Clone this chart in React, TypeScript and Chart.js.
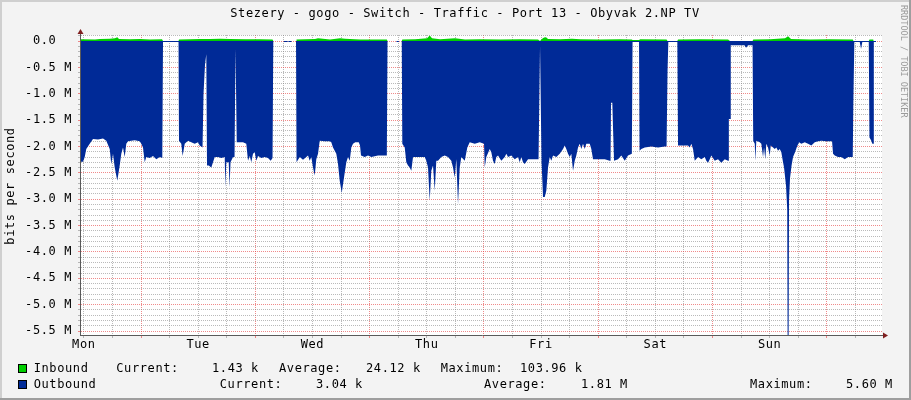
import React, { useEffect, useRef } from 'react';
import { Chart, registerables } from 'chart.js';

Chart.register(...registerables);

const TITLE = 'Stezery - gogo - Switch - Traffic - Port 13 - Obyvak 2.NP TV';
const Y_TITLE = 'bits per second';
const WATERMARK = 'RRDTOOL / TOBI OETIKER';

// x axis: hours since Monday 00:00 (one week window)
const xStartHour = 11.4;
const xEndHour = 179.6;
const dayLabels = ['Mon', 'Tue', 'Wed', 'Thu', 'Fri', 'Sat', 'Sun'];

// y axis (Mbit/s, outbound drawn negative)
const yMin = -5.575;
const yMax = 0.114;
const yTickValues = [0, -0.5, -1.0, -1.5, -2.0, -2.5, -3.0, -3.5, -4.0, -4.5, -5.0, -5.5];
const yTickLabels = [' 0.0  ', '-0.5 M', '-1.0 M', '-1.5 M', '-2.0 M', '-2.5 M', '-3.0 M', '-3.5 M', '-4.0 M', '-4.5 M', '-5.0 M', '-5.5 M'];

// Outbound traffic (hours, Mbit/s negative)
const outHours = [
  11.40, 11.82, 12.18, 12.51, 13.23, 13.92, 14.97, 16.02, 16.71, 17.43,
  17.76, 18.12, 18.48, 19.02, 19.53, 19.86, 20.22, 20.58, 20.91, 21.27,
  22.68, 23.73, 24.06, 24.42, 24.78, 25.11, 25.83, 26.52, 27.21, 27.93,
  28.47, 28.62, 31.88, 31.98, 32.46, 32.74, 33.18, 33.87, 34.56, 35.28,
  35.97, 36.33, 36.92, 37.13, 37.44, 37.71, 37.86, 38.22, 38.76, 39.12,
  39.48, 40.17, 40.86, 41.58, 41.70, 41.91, 42.42, 42.59, 42.80, 43.32,
  43.64, 43.85, 44.10, 45.42, 46.11, 46.47, 46.83, 47.16, 47.52, 47.88,
  48.21, 48.57, 49.26, 49.98, 50.67, 51.24, 51.62, 51.78, 53.93, 54.03,
  54.66, 54.77, 55.08, 55.50, 55.61, 56.55, 56.66, 57.33, 58.02, 58.71,
  59.07, 59.43, 59.76, 60.12, 60.48, 60.81, 61.17, 61.53, 62.58, 63.63,
  63.96, 64.32, 64.68, 65.01, 65.37, 65.73, 66.15, 66.63, 67.11, 67.47,
  67.83, 68.16, 68.52, 69.00, 69.72, 69.99, 70.20, 70.98, 71.67, 72.36,
  73.77, 75.62, 75.77, 77.61, 77.68, 78.12, 78.18, 78.75, 78.87, 79.38,
  79.71, 80.07, 80.43, 80.76, 81.12, 82.17, 83.58, 83.91, 84.27, 84.63,
  84.96, 85.32, 85.68, 86.01, 86.37, 87.06, 87.78, 88.47, 89.16, 89.52,
  89.88, 90.21, 90.57, 90.93, 91.26, 91.98, 92.52, 93.03, 94.08, 95.13,
  96.03, 96.18, 96.51, 97.23, 97.56, 97.92, 98.28, 98.61, 98.97, 99.66,
  100.38, 100.71, 101.07, 101.76, 102.48, 103.17, 103.53, 103.86, 104.22, 104.58,
  105.27, 106.68, 107.48, 107.79, 108.11, 108.42, 108.78, 109.11, 109.47, 109.83,
  110.16, 110.52, 111.21, 111.93, 112.62, 112.98, 113.31, 113.67, 114.03, 114.36,
  114.72, 115.08, 115.41, 115.77, 116.13, 116.46, 116.82, 117.18, 117.51, 118.23,
  118.56, 118.92, 119.97, 121.38, 122.43, 122.60, 122.70, 122.97, 123.12, 123.33,
  124.17, 124.86, 125.58, 126.27, 127.07, 127.22, 128.58, 128.69, 129.06, 129.78,
  131.16, 132.57, 133.98, 134.36, 134.57, 134.73, 136.62, 136.77, 138.87, 139.23,
  139.56, 139.92, 140.28, 140.97, 141.66, 142.38, 142.71, 143.07, 143.43, 143.76,
  144.48, 145.17, 145.86, 146.58, 147.27, 147.44, 147.69, 147.84, 150.73, 151.05,
  151.47, 152.42, 152.56, 152.88, 153.00, 153.21, 153.93, 154.26, 154.62, 154.83,
  155.10, 155.31, 155.67, 156.03, 156.24, 157.08, 157.41, 157.77, 158.13, 158.46,
  158.82, 159.03, 159.18, 159.45, 159.70, 159.78, 159.99, 160.08, 160.29, 160.61,
  160.92, 161.34, 161.76, 162.18, 162.66, 163.38, 164.07, 164.76, 165.48, 166.17,
  166.86, 167.91, 169.11, 169.32, 169.68, 170.37, 171.06, 171.78, 172.47, 173.16,
  173.46, 173.58, 173.79, 174.93, 175.20, 175.47, 176.82, 176.97, 177.30, 177.57,
  177.76, 177.88, 178.35,
];
const outMbps = [
  -2.29, -2.29, -2.20, -2.05, -1.95, -1.86, -1.87, -1.85, -1.89, -2.05,
  -2.33, -2.14, -2.40, -2.65, -2.36, -2.14, -2.02, -2.20, -1.95, -1.90,
  -1.88, -1.90, -1.95, -2.02, -2.30, -2.20, -2.22, -2.18, -2.24, -2.20,
  -2.22, -0.02, -0.02, -1.89, -1.95, -2.18, -1.95, -1.89, -1.92, -1.95,
  -1.92, -1.98, -2.02, -1.00, -0.45, -0.25, -2.36, -2.36, -2.40, -2.30,
  -2.20, -2.20, -2.22, -2.20, -2.77, -2.30, -2.30, -2.77, -2.30, -2.20,
  -2.20, -0.15, -1.92, -1.92, -1.95, -2.27, -2.18, -2.30, -2.14, -2.11,
  -2.27, -2.18, -2.22, -2.20, -2.22, -2.27, -2.22, 0, 0, -0.02,
  -0.02, 0, -0.02, -0.02, 0, 0, -2.30, -2.20, -2.25, -2.20,
  -2.17, -2.27, -2.20, -2.40, -2.55, -2.24, -2.14, -1.89, -1.90, -1.90,
  -1.92, -2.02, -2.08, -2.14, -2.33, -2.65, -2.88, -2.59, -2.30, -2.20,
  -2.27, -2.02, -1.95, -1.92, -1.92, -1.98, -2.17, -2.20, -2.17, -2.20,
  -2.17, -2.17, 0, 0, -0.02, -0.02, 0, 0, -1.95, -2.02,
  -2.30, -2.36, -2.40, -2.46, -2.20, -2.20, -2.20, -2.27, -2.40, -3.03,
  -2.46, -2.36, -2.84, -2.27, -2.27, -2.20, -2.17, -2.20, -2.27, -2.40,
  -2.59, -2.24, -3.09, -2.40, -2.20, -2.27, -2.02, -1.92, -1.95, -1.92,
  -1.95, -2.40, -2.20, -2.05, -2.11, -2.27, -2.33, -2.20, -2.17, -2.27,
  -2.20, -2.14, -2.20, -2.17, -2.24, -2.20, -2.30, -2.20, -2.30, -2.33,
  -2.24, -2.24, -2.24, -0.10, -2.30, -2.96, -2.96, -2.84, -2.40, -2.20,
  -2.27, -2.17, -2.20, -2.14, -2.05, -1.98, -2.05, -2.14, -2.20, -2.14,
  -2.46, -2.27, -2.17, -2.02, -1.95, -2.05, -1.95, -2.05, -1.95, -1.95,
  -2.05, -2.24, -2.24, -2.24, -2.27, -2.27, -1.17, -1.17, -1.65, -2.27,
  -2.24, -2.17, -2.27, -2.17, -2.14, -0.02, -0.02, -2.08, -2.05, -2.02,
  -2.00, -2.02, -2.00, -2.00, -0.55, -0.02, -0.02, -1.98, -1.98, -2.02,
  -1.95, -2.05, -2.27, -2.20, -2.24, -2.20, -2.27, -2.31, -2.24, -2.17,
  -2.27, -2.24, -2.31, -2.24, -2.27, -1.48, -1.48, -0.08, -0.08, -0.13,
  -0.08, -0.08, -1.89, -1.95, -2.27, -1.89, -1.92, -1.95, -2.20, -2.02,
  -2.24, -1.95, -2.02, -2.17, -1.98, -2.05, -2.02, -2.08, -2.05, -2.11,
  -2.30, -2.40, -2.52, -2.75, -3.20, -5.60, -5.60, -3.00, -2.60, -2.36,
  -2.20, -2.11, -2.00, -1.92, -1.95, -1.92, -1.95, -1.98, -1.92, -1.90,
  -1.89, -1.90, -1.90, -2.14, -2.17, -2.20, -2.20, -2.24, -2.20, -2.20,
  -2.20, -1.20, -0.02, -0.02, -0.15, -0.02, -0.02, -1.83, -1.88, -1.95,
  -1.95, -0.02, -0.02,
];

// Inbound traffic (hours, Mbit/s)
const inHours = [
  11.40, 14.34, 15.39, 17.49, 18.54, 19.02, 19.38, 21.69, 23.79, 25.89,
  28.41, 28.62, 31.88, 31.98, 34.29, 36.39, 38.49, 40.59, 42.69, 45.84,
  48.99, 51.62, 51.78, 56.55, 56.66, 60.54, 61.17, 63.69, 65.79, 66.84,
  69.99, 75.62, 75.77, 78.75, 78.87, 81.54, 84.06, 84.63, 85.11, 86.79,
  89.94, 92.04, 95.19, 99.39, 103.59, 107.37, 107.79, 108.11, 108.63, 109.05,
  109.47, 111.99, 114.51, 116.19, 120.39, 124.59, 127.07, 127.22, 128.58, 128.69,
  134.36, 134.57, 136.62, 136.77, 141.39, 147.27, 147.69, 152.42, 152.56, 156.09,
  159.24, 159.87, 160.50, 164.49, 168.69, 173.46, 173.62, 176.82, 176.97, 177.76,
  177.88,
];
const inMbps = [
  0.035, 0.03, 0.04, 0.045, 0.05, 0.07, 0.04, 0.035, 0.04, 0.03,
  0.035, 0, 0, 0.03, 0.035, 0.04, 0.04, 0.045, 0.04, 0.035,
  0.035, 0.03, 0, 0, 0.03, 0.04, 0.05, 0.03, 0.05, 0.045,
  0.03, 0.03, 0, 0, 0.03, 0.035, 0.05, 0.104, 0.05, 0.035,
  0.05, 0.03, 0.035, 0.03, 0.035, 0.03, 0, 0.035, 0.065, 0.07,
  0.04, 0.035, 0.045, 0.035, 0.03, 0.035, 0.03, 0.02, 0.02, 0.035,
  0.03, 0, 0, 0.03, 0.035, 0.03, 0, 0, 0.03, 0.035,
  0.05, 0.09, 0.04, 0.03, 0.035, 0.03, 0, 0, 0.03, 0.03,
  0,
];

// Legend texts
const inboundLegend = ['Inbound', 'Current:', '1.43 k', 'Average:', '24.12 k', 'Maximum:', '103.96 k'];
const outboundLegend = ['Outbound', 'Current:', '3.04 k', 'Average:', '1.81 M', 'Maximum:', '5.60 M'];

// ---- styling / layout ----
const FONT = '"DejaVu Sans Mono", monospace';
const BLUE = '#002A97';
const GREEN = '#00CF00';
const GRID_MINOR = 'rgba(130,130,130,0.55)';
const GRID_MAJOR = 'rgba(230,60,60,0.6)';
const BG = '#F3F3F3';
const AXIS = '#5A5A5A';
const ARROW = '#7F1F1F';
const LEGEND_X_IN = [33.7, 116.3, 212, 279, 366, 440.7, 520];
const LEGEND_X_OUT = [33.7, 219.8, 316, 484, 581, 750, 846];

function pairs(xs: number[], ys: number[]) {
  const n = Math.min(xs.length, ys.length);
  const out: { x: number; y: number }[] = [];
  for (let i = 0; i < n; i++) out.push({ x: xs[i], y: ys[i] });
  return out;
}

const framePlugin = {
  id: 'rrdFrame',
  beforeDraw(chart: any) {
    const { ctx, width, height, chartArea: a } = chart;
    ctx.save();
    ctx.fillStyle = BG;
    ctx.fillRect(0, 0, width, height);
    ctx.fillStyle = '#CFCFCF';
    ctx.fillRect(0, 0, width, 2);
    ctx.fillRect(0, 0, 2, height);
    ctx.fillStyle = '#9E9E9E';
    ctx.fillRect(0, height - 2, width, 2);
    ctx.fillRect(width - 2, 0, 2, height);
    ctx.fillStyle = '#FFFFFF';
    ctx.fillRect(a.left, a.top, a.right - a.left, a.bottom - a.top);
    ctx.restore();
    (ctx as any).letterSpacing = '0.6px';
  },
  afterDraw(chart: any) {
    const { ctx, chartArea: a } = chart;
    ctx.save();
    // axes
    ctx.strokeStyle = AXIS;
    ctx.lineWidth = 1;
    ctx.beginPath();
    ctx.moveTo(a.left - 0.5, a.bottom + 1);
    ctx.lineTo(a.left - 0.5, a.top - 4);
    ctx.moveTo(a.left - 1, a.bottom + 0.5);
    ctx.lineTo(a.right + 3, a.bottom + 0.5);
    ctx.stroke();
    ctx.fillStyle = ARROW;
    ctx.beginPath();
    ctx.moveTo(a.left - 0.5, a.top - 6);
    ctx.lineTo(a.left - 3.5, a.top - 1);
    ctx.lineTo(a.left + 2.5, a.top - 1);
    ctx.closePath();
    ctx.fill();
    ctx.beginPath();
    ctx.moveTo(a.right + 6, a.bottom + 0.5);
    ctx.lineTo(a.right + 1, a.bottom - 2.5);
    ctx.lineTo(a.right + 1, a.bottom + 3.5);
    ctx.closePath();
    ctx.fill();

    // texts
    ctx.fillStyle = '#000';
    ctx.font = `12px ${FONT}`;
    (ctx as any).letterSpacing = '0.6px';
    ctx.textBaseline = 'middle';
    ctx.textAlign = 'center';
    ctx.fillText(TITLE, 465, 13.5);

    ctx.save();
    ctx.translate(11, 186);
    ctx.rotate(-Math.PI / 2);
    ctx.fillText(Y_TITLE, 0, 0);
    ctx.restore();

    ctx.textAlign = 'left';
    inboundLegend.forEach((t, i) => ctx.fillText(t, LEGEND_X_IN[i], 368.5));
    outboundLegend.forEach((t, i) => ctx.fillText(t, LEGEND_X_OUT[i], 384.5));

    // legend swatches
    ctx.fillStyle = GREEN;
    ctx.fillRect(18, 364, 9, 9);
    ctx.fillStyle = BLUE;
    ctx.fillRect(18, 380, 9, 9);
    ctx.strokeStyle = '#000';
    ctx.strokeRect(18.5, 364.5, 8, 8);
    ctx.strokeRect(18.5, 380.5, 8, 8);

    // watermark
    ctx.save();
    ctx.fillStyle = '#9A9A9A';
    ctx.font = `8.5px ${FONT}`;
    (ctx as any).letterSpacing = '0px';
    ctx.translate(903, 5);
    ctx.rotate(Math.PI / 2);
    ctx.textAlign = 'left';
    ctx.textBaseline = 'middle';
    ctx.fillText(WATERMARK, 0, 0);
    ctx.restore();

    ctx.restore();
  },
};

export default function App() {
  const ref = useRef<HTMLCanvasElement>(null);

  useEffect(() => {
    document.body.style.margin = '0';
    const canvas = ref.current;
    if (!canvas) return;

    const xGrid: number[] = [];
    for (let h = Math.ceil(xStartHour / 6) * 6; h <= xEndHour; h += 6) xGrid.push(h);
    const yGrid: number[] = [];
    for (let i = Math.ceil(yMin * 10); i <= Math.floor(yMax * 10); i++) yGrid.push(i / 10);

    const chart = new Chart(canvas, {
      type: 'line',
      data: {
        datasets: [
          {
            label: 'Inbound',
            data: pairs(inHours, inMbps),
            backgroundColor: GREEN,
            borderColor: 'rgba(0,0,0,0)',
            borderWidth: 0,
            fill: 'origin',
            pointRadius: 0,
            tension: 0,
          },
          {
            label: 'Outbound',
            data: pairs(outHours, outMbps),
            backgroundColor: BLUE,
            borderColor: 'rgba(0,0,0,0)',
            borderWidth: 0,
            fill: 'origin',
            pointRadius: 0,
            tension: 0,
          },
        ],
      },
      options: {
        animation: false,
        responsive: false,
        maintainAspectRatio: false,
        devicePixelRatio: 1,
        events: [],
        layout: { padding: { left: 0, right: 29, top: 35, bottom: 0 } },
        plugins: {
          legend: { display: false },
          title: { display: false },
          tooltip: { enabled: false },
        },
        scales: {
          x: {
            type: 'linear',
            min: xStartHour,
            max: xEndHour,
            z: 1,
            afterBuildTicks: (s: any) => {
              s.ticks = xGrid.map((v) => ({ value: v }));
            },
            afterFit: (s: any) => {
              s.height = 65;
            },
            ticks: {
              autoSkip: false,
              maxRotation: 0,
              minRotation: 0,
              padding: 0,
              color: '#000',
              font: { family: FONT, size: 12 },
              callback: (v: any) => {
                const d = (Number(v) - 12) / 24;
                return Number.isInteger(d) && d >= 0 && d < dayLabels.length ? dayLabels[d] : '';
              },
            },
            grid: {
              color: (c: any) => (c.tick && c.tick.value % 24 === 0 ? GRID_MAJOR : GRID_MINOR),
              lineWidth: 1,
              tickLength: 3,
              drawTicks: true,
            },
            border: { display: false, dash: [1, 1] },
          },
          y: {
            type: 'linear',
            min: yMin,
            max: yMax,
            z: 1,
            afterBuildTicks: (s: any) => {
              s.ticks = yGrid.map((v) => ({ value: v }));
            },
            afterFit: (s: any) => {
              s.width = 81;
            },
            ticks: {
              autoSkip: false,
              padding: 6,
              color: '#000',
              font: { family: FONT, size: 12 },
              callback: (v: any) => {
                const i = yTickValues.findIndex((t) => Math.abs(t - Number(v)) < 1e-6);
                return i >= 0 ? yTickLabels[i] : '';
              },
            },
            grid: {
              color: (c: any) =>
                c.tick && Math.round(c.tick.value * 10) % 5 === 0 ? GRID_MAJOR : GRID_MINOR,
              lineWidth: 1,
              tickLength: 3,
              drawTicks: true,
            },
            border: { display: false, dash: [1, 1] },
          },
        },
      },
      plugins: [framePlugin],
    } as any);

    return () => chart.destroy();
  }, []);

  return (
    <canvas
      ref={ref}
      width={911}
      height={400}
      style={{ display: 'block', width: 911, height: 400 }}
    />
  );
}
